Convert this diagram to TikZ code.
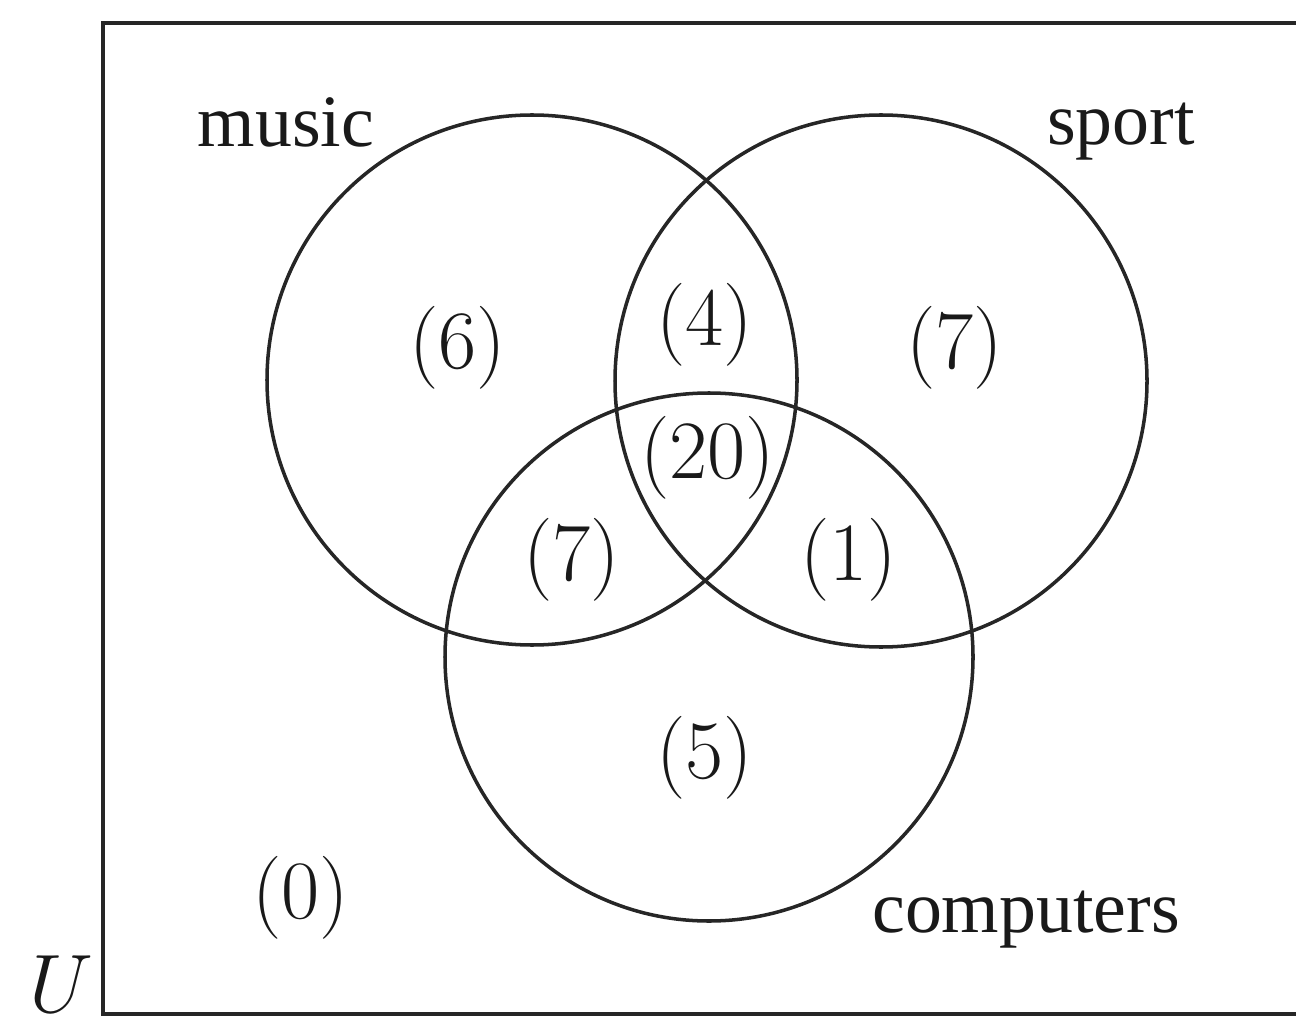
\RequirePackage{fix-cm}
\documentclass[tikz,border=0pt]{standalone}
\usepackage{fontspec}
\newfontfamily\lblfont{Liberation Serif}
\usepackage{tikz}
\usetikzlibrary{positioning}
\tikzset{
  vcirc/.style={circle,draw=black!85,line width=1pt,inner sep=0pt},
  setlbl/.style={font=\fontsize{21}{25}\selectfont\lblfont,anchor=base,
    inner sep=0pt,text=black!90},
  cnt/.style={font=\fontsize{23.6}{28}\selectfont,inner sep=0pt,text=black!90},
  ubox/.style={draw=black!85,line width=1.1pt},
}
\begin{document}
\begin{tikzpicture}
  \useasboundingbox (0,0) rectangle (12.96,10.24);
  \clip (0,0) rectangle (12.96,10.24);
  \draw[ubox] (1.03,0.10) rectangle (13.10,10.01);
  % the three sets
  \node[vcirc,minimum size=5.30cm] (M) at (5.32,6.44) {};
  \node[vcirc,minimum size=5.32cm] (S) at (8.81,6.43) {};
  \node[vcirc,minimum size=5.28cm] (C) at (7.09,3.67) {};
  \node[setlbl] (mlbl) at (2.86,8.77) {music};
  \node[setlbl] (slbl) at (11.21,8.79) {sport};
  \node[setlbl] (clbl) at (10.26,0.92) {computers};
  \node[cnt,anchor=base] (ulbl) at (0.61,0.12) {$U$};
  % counts
  \node[cnt] (n6) at (4.58,6.76) {$(6)$};
  \node[cnt] (n4) at (7.05,6.99) {$(4)$};
  \node[cnt] (n7s) at (9.55,6.76) {$(7)$};
  \node[cnt] (n20) at (7.08,5.66) {$(20)$};
  \node[cnt] (n7c) at (5.72,4.64) {$(7)$};
  \node[cnt] (n1) at (8.49,4.64) {$(1)$};
  \node[cnt] (n5) at (7.05,2.66) {$(5)$};
  \node[cnt] (n0) at (3.01,1.26) {$(0)$};
\end{tikzpicture}
\end{document}
